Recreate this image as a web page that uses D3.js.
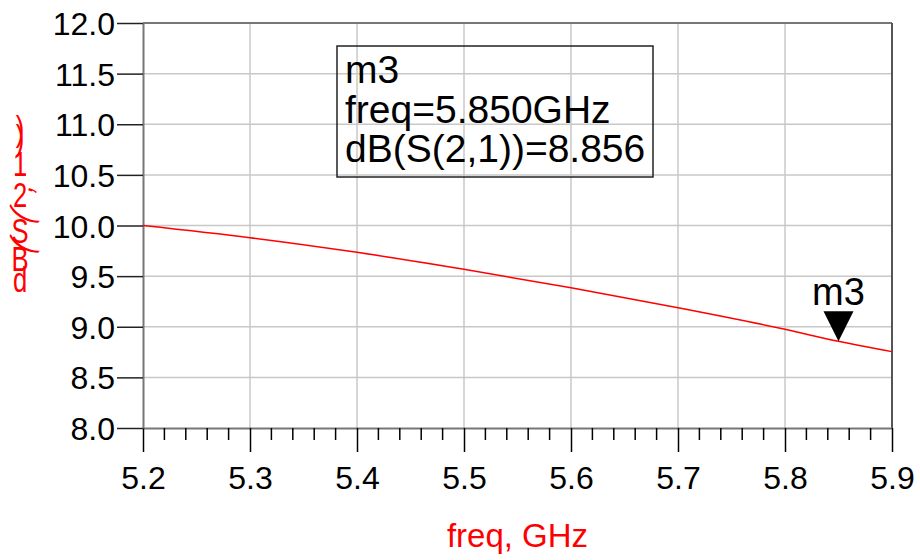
<!DOCTYPE html>
<html>
<head>
<meta charset="utf-8">
<script src="https://cdn.jsdelivr.net/npm/d3@7"></script>
<style>
  body { margin: 0; background: #fff; }
  text { font-family: "Liberation Sans", Arial, sans-serif; }
</style>
</head>
<body>
<svg id="chart" width="920" height="560"></svg>
<script>
// data
const freq = [5.2, 5.3, 5.4, 5.5, 5.6, 5.7, 5.8, 5.85, 5.9]
const dbS21 = [10.0, 9.88, 9.735, 9.567, 9.385, 9.188, 8.975, 8.856, 8.754]
const xTicks = [5.2, 5.3, 5.4, 5.5, 5.6, 5.7, 5.8, 5.9]
const yTicks = [8.0, 8.5, 9.0, 9.5, 10.0, 10.5, 11.0, 11.5, 12.0]
const markerFreq = [5.85]
const markerVal = [8.856]
const markerLines = ['m3', 'freq=5.850GHz', 'dB(S(2,1))=8.856']
const yLabelChars = ['d', 'B', '(', 'S', '(', '2', ',', '1', ')', ')']

const LEFT = 143, TOP = 23, W = 749, H = 405

const svg = d3.select('#chart')
const chart = svg.append('g').attr('transform', `translate(${LEFT}, ${TOP})`)

const x = d3.scaleLinear().domain([5.2, 5.9]).range([0, W])
const y = d3.scaleLinear().domain([8, 12]).range([H, 0])

// grid lines
chart.append('g')
  .selectAll('line.vg')
  .data(xTicks.slice(1, -1))
  .enter().append('line')
  .attr('x1', d => x(d)).attr('x2', d => x(d))
  .attr('y1', 0).attr('y2', H)
  .style('stroke', '#c8c8c8').style('stroke-width', 1.5)

chart.append('g')
  .selectAll('line.hg')
  .data(yTicks.slice(1, -1))
  .enter().append('line')
  .attr('x1', 0).attr('x2', W)
  .attr('y1', d => y(d)).attr('y2', d => y(d))
  .style('stroke', '#c8c8c8').style('stroke-width', 1.5)

// frame top / right
chart.append('line').attr('x1', 0).attr('x2', W).attr('y1', 0).attr('y2', 0)
  .style('stroke', '#777').style('stroke-width', 2)
chart.append('line').attr('x1', W).attr('x2', W).attr('y1', 0).attr('y2', H)
  .style('stroke', '#555').style('stroke-width', 2)

// x axis: major ticks + 4 minor between
const minorTicks = d3.range(0, 36).map(i => 5.2 + i * 0.02)
  .filter((d, i) => i % 5 !== 0)

const xAxis = chart.append('g').attr('transform', `translate(0, ${H})`)
xAxis.call(d3.axisBottom(x).tickValues(xTicks).tickSize(24).tickSizeOuter(0)
  .tickFormat(d3.format('.1f')).tickPadding(8))
xAxis.select('.domain').style('stroke', '#777').style('stroke-width', 2)
xAxis.selectAll('.tick line').style('stroke', '#000').style('stroke-width', 1.5)
xAxis.selectAll('.tick text')
  .style('font-size', '32px').style('font-family', '"Liberation Sans", Arial, sans-serif')
  .attr('fill', '#000').attr('dy', null).attr('y', 61)

xAxis.selectAll('line.minor')
  .data(minorTicks)
  .enter().append('line')
  .attr('x1', d => x(d)).attr('x2', d => x(d))
  .attr('y1', 0).attr('y2', 12)
  .style('stroke', '#000').style('stroke-width', 1.5)

// y axis
const yAxis = chart.append('g')
yAxis.call(d3.axisLeft(y).tickValues(yTicks).tickSize(26).tickSizeOuter(0)
  .tickFormat(d3.format('.1f')).tickPadding(2))
yAxis.select('.domain').style('stroke', '#777').style('stroke-width', 2)
yAxis.selectAll('.tick line').style('stroke', '#222').style('stroke-width', 1.5)
yAxis.selectAll('.tick text')
  .style('font-size', '32px').style('font-family', '"Liberation Sans", Arial, sans-serif')
  .attr('fill', '#000').attr('dy', '0.36em')

// curve
const line = d3.line()
  .x((d, i) => x(freq[i]))
  .y(d => y(d))
  .curve(d3.curveMonotoneX)

chart.append('path')
  .datum(dbS21)
  .attr('d', line)
  .style('fill', 'none')
  .style('stroke', '#ff0000')
  .style('stroke-width', 1.5)

// marker m3
const mk = chart.append('g')
  .attr('transform', `translate(${x(markerFreq[0])}, ${y(markerVal[0])})`)
mk.append('path').attr('d', 'M0,0 L-15,-30 L15,-30 Z').style('fill', '#000')
mk.append('text').attr('x', 0).attr('y', -36)
  .attr('text-anchor', 'middle')
  .style('font-size', '38px')
  .text(markerLines[0])

// marker readout box
chart.append('rect')
  .attr('x', x(5.2) + 194).attr('y', 23)
  .attr('width', 316).attr('height', 131)
  .style('fill', 'none').style('stroke', '#222').style('stroke-width', 1.5)

chart.append('g').selectAll('text')
  .data(markerLines)
  .enter().append('text')
  .attr('x', 202)
  .attr('y', (d, i) => 60 + i * 39.5)
  .style('font-size', '39px')
  .text(d => d)

// x title
svg.append('text')
  .attr('x', LEFT + W / 2).attr('y', 547)
  .attr('text-anchor', 'middle')
  .style('font-size', '33px').style('fill', '#ff0000')
  .text('freq, GHz')

// y title: stacked characters, bottom to top
const yPos = [279, 258, 244, 230, 214, 194, 186, 163, 137, 128]
svg.append('g').selectAll('text')
  .data(yLabelChars)
  .enter().append('text')
  .attr('text-anchor', 'middle')
  .attr('transform', (d, i) => {
    const rot = (d === '(' ) ? -60 : (d === ',' ? -70 : 0)
    return `translate(20, ${yPos[i]}) rotate(${rot}) scale(0.8, 1.12)`
  })
  .attr('dy', '0.36em')
  .style('font-size', '32px').style('fill', '#ff0000')
  .text(d => d)
</script>
</body>
</html>
